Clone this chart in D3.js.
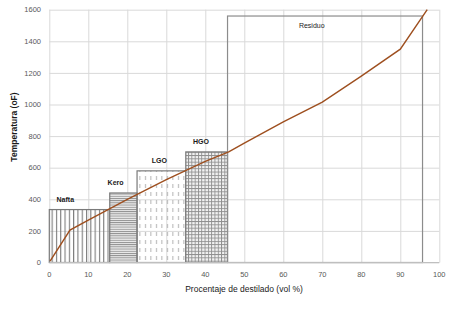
<!DOCTYPE html>
<html><head><meta charset="utf-8">
<script src="https://cdn.jsdelivr.net/npm/d3@7"></script>
<style>body{margin:0;background:#fff}svg{display:block}</style>
</head><body>
<script>
// ---- data ----
const cutNames = ["Nafta", "Kero", "LGO", "HGO", "Residuo"];
const cutStart = [0, 15.5, 22.5, 35, 45.7];
const cutEnd   = [15.5, 22.5, 35, 45.7, 95.7];
const cutTemp  = [335, 440, 580, 700, 1560];
const cutLabelAt = [4.1, 17.0, 28.2, 38.9, 67.3];
const curveVol  = [0.2, 5.3, 10, 20, 30, 40, 46, 50, 60, 70, 80, 90, 96.9];
const curveTemp = [8, 205, 268, 400, 525, 640, 700, 755, 890, 1015, 1180, 1350, 1600];
const xTicks = [0,10,20,30,40,50,60,70,80,90,100];
const yTicks = [0,200,400,600,800,1000,1200,1400,1600];

const W = 451, H = 313;
const m = {l:49.3, r:W-439.3, t:9.7, b:H-262.5};
const svg = d3.select("body").append("svg").attr("width",W).attr("height",H);
const x = d3.scaleLinear().domain([0,100]).range([m.l, W-m.r]);
const y = d3.scaleLinear().domain([0,1600]).range([H-m.b, m.t]);
const font = "'Liberation Sans', Arial, sans-serif";

// patterns
const defs = svg.append("defs");
const pN = defs.append("pattern").attr("id","pN").attr("patternUnits","userSpaceOnUse").attr("width",4.3).attr("height",10);
pN.append("rect").attr("x",0).attr("y",0).attr("width",1.1).attr("height",10).attr("fill","#7a7a7a");
const pK = defs.append("pattern").attr("id","pK").attr("patternUnits","userSpaceOnUse").attr("width",10).attr("height",2.2);
pK.append("rect").attr("width",10).attr("height",2.2).attr("fill","#ececec");
pK.append("rect").attr("x",0).attr("y",0).attr("width",10).attr("height",0.9).attr("fill","#8c8c8c");
const pL = defs.append("pattern").attr("id","pL").attr("patternUnits","userSpaceOnUse").attr("width",5.5).attr("height",8);
pL.append("rect").attr("x",2).attr("y",0).attr("width",0.9).attr("height",4).attr("fill","#a8a8a8");
const pH = defs.append("pattern").attr("id","pH").attr("patternUnits","userSpaceOnUse").attr("width",3.3).attr("height",3.3);
pH.append("rect").attr("width",3.3).attr("height",3.3).attr("fill","#f2f2f2");
pH.append("rect").attr("x",0).attr("y",0).attr("width",3.3).attr("height",0.9).attr("fill","#8f8f8f");
pH.append("rect").attr("x",0).attr("y",0).attr("width",0.9).attr("height",3.3).attr("fill","#8f8f8f");
const fills = ["url(#pN)","url(#pK)","url(#pL)","url(#pH)","none"];

// grid
svg.append("g").attr("transform",`translate(0,${H-m.b})`)
  .call(d3.axisBottom(x).tickValues(xTicks).tickSize(-(H-m.b-m.t)).tickFormat(""))
  .call(g=>g.select(".domain").remove())
  .call(g=>g.selectAll("line").attr("stroke","#d9d9d9").attr("stroke-width",1));
svg.append("g").attr("transform",`translate(${m.l},0)`)
  .call(d3.axisLeft(y).tickValues(yTicks).tickSize(-(W-m.l-m.r)).tickFormat(""))
  .call(g=>g.select(".domain").remove())
  .call(g=>g.selectAll("line").attr("stroke","#d9d9d9").attr("stroke-width",1));

// cut boxes
const cuts = cutNames.map((n,i)=>({n, s:cutStart[i], e:cutEnd[i], t:cutTemp[i], la:cutLabelAt[i], f:fills[i]}));
svg.append("g").selectAll("rect").data(cuts).join("rect")
  .attr("x",d=>x(d.s)).attr("y",d=>y(d.t))
  .attr("width",d=>x(d.e)-x(d.s)).attr("height",d=>y(0)-y(d.t))
  .attr("fill",d=>d.f).attr("stroke",(d,i)=>i===4?"#8c8c8c":"#7a7a7a").attr("stroke-width",1.2);

// labels
svg.append("g").selectAll("text").data(cuts).join("text")
  .attr("x",d=>x(d.la)).attr("y",(d,i)=>i===4? y(d.t)+12 : y(d.t)-8)
  .attr("text-anchor","middle").attr("font-family",font).attr("font-size",7)
  .attr("font-weight",(d,i)=>i===4?"normal":"bold").attr("fill","#1a1a1a")
  .text(d=>d.n);

// curve
const pts = curveVol.map((v,i)=>[v, curveTemp[i]]);
svg.append("path").datum(pts)
  .attr("d", d3.line().x(d=>x(d[0])).y(d=>y(d[1])))
  .attr("fill","none").attr("stroke","#9e4f1f").attr("stroke-width",1.4);

// axis labels
svg.append("g").selectAll("text").data(xTicks).join("text")
  .attr("x",d=>x(d)).attr("y",277).attr("text-anchor","middle")
  .attr("font-family",font).attr("font-size",7.5).attr("fill","#595959").text(d=>d);
svg.append("g").selectAll("text").data(yTicks).join("text")
  .attr("x",41).attr("y",d=>y(d)+2.7).attr("text-anchor","end")
  .attr("font-family",font).attr("font-size",7.5).attr("fill","#595959").text(d=>d);

svg.append("line").attr("x1",m.l).attr("x2",W-m.r).attr("y1",y(0)).attr("y2",y(0)).attr("stroke","#bfbfbf");

svg.append("text").attr("x",244).attr("y",291.5).attr("text-anchor","middle")
  .attr("font-family",font).attr("font-size",8.5).attr("fill","#1a1a1a").text("Procentaje de destilado (vol %)");
svg.append("text").attr("transform",`translate(17,${127}) rotate(-90)`).attr("text-anchor","middle")
  .attr("font-family",font).attr("font-size",8.5).attr("font-weight","bold").attr("fill","#1a1a1a").text("Temperatura (oF)");
</script>
</body></html>
